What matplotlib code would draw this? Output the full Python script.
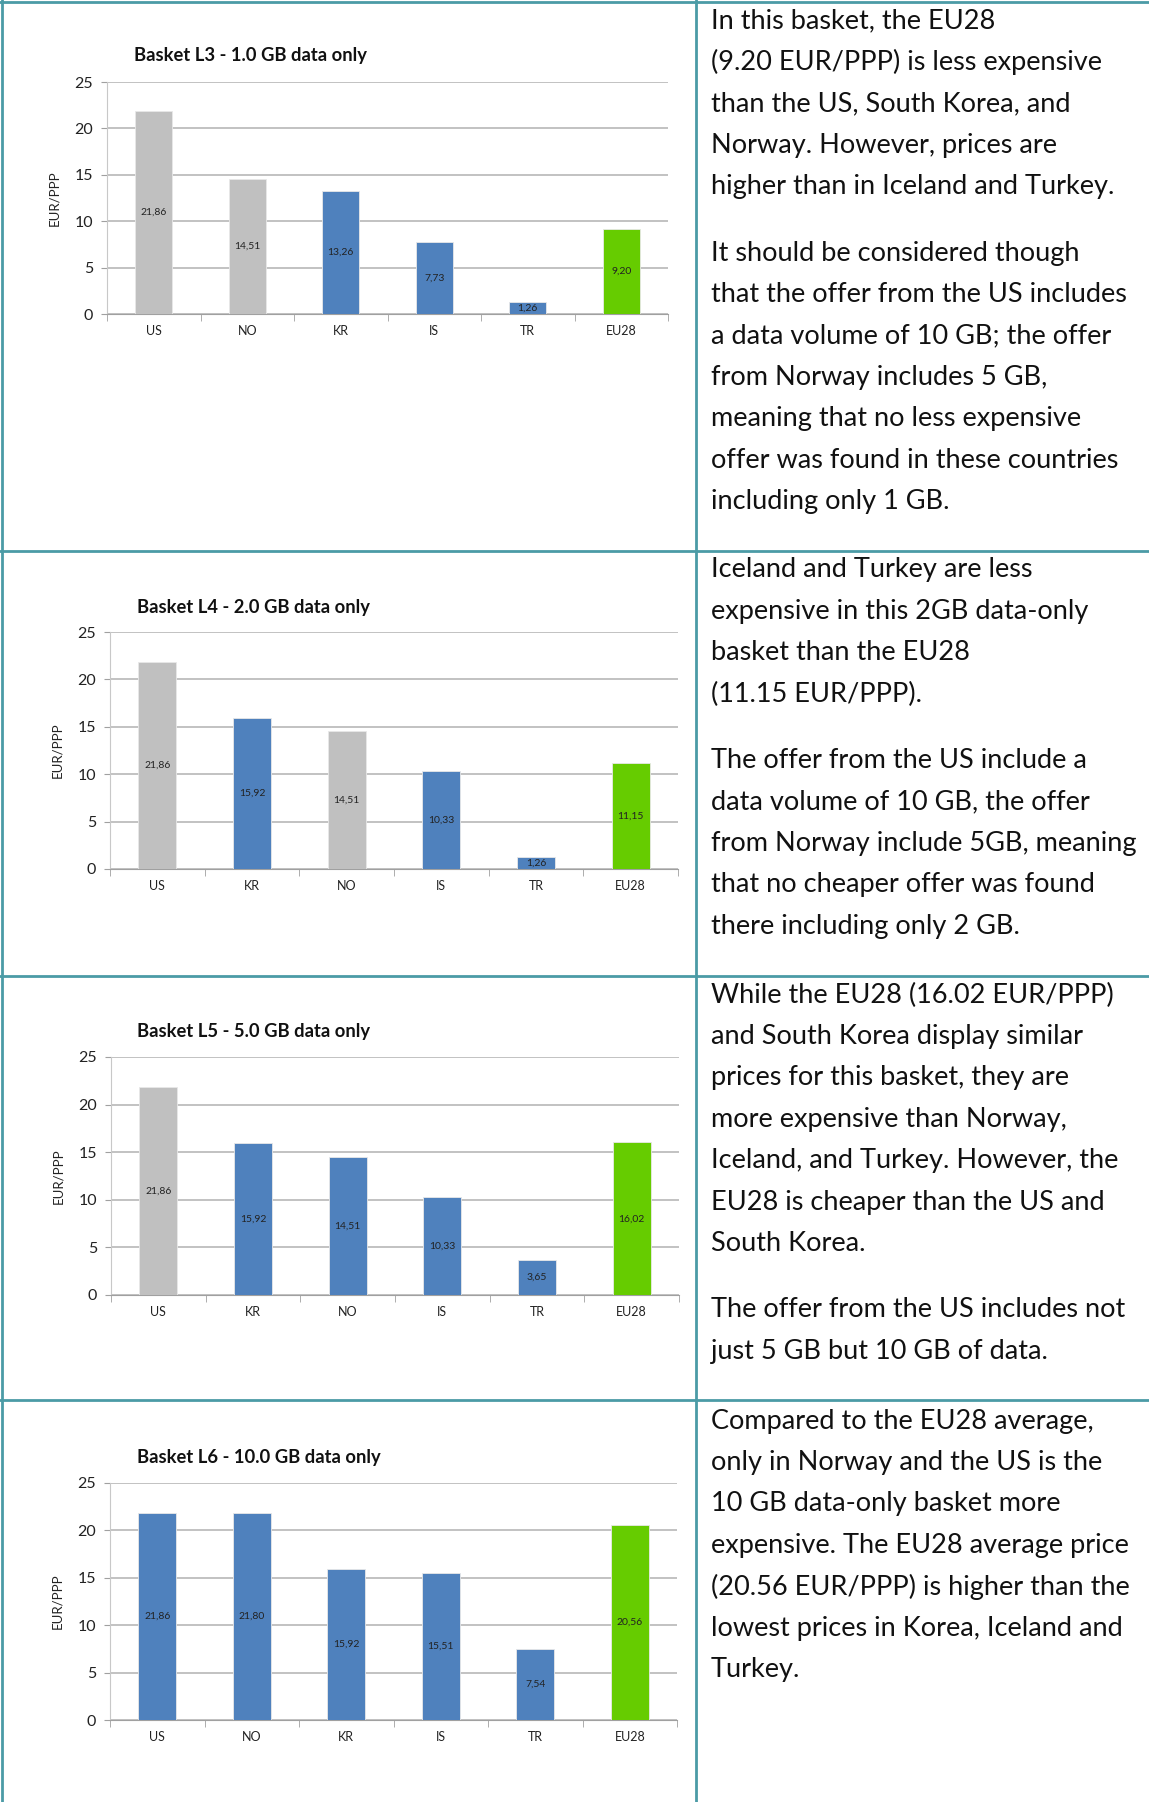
import numpy as np
import matplotlib
matplotlib.use("Agg")
import matplotlib.pyplot as plt
from matplotlib.lines import Line2D

plt.rcParams["font.family"] = ["Lato", "DejaVu Sans"]

W, H = 1149, 1802
GRAY = "#C0C0C0"
BLUE = "#4F81BD"
GREEN = "#66CC00"
BORDER = "#4B9BA6"

# Basket data
l3_countries = ["US", "NO", "KR", "IS", "TR", "EU28"]
l3_values = [21.86, 14.51, 13.26, 7.73, 1.26, 9.20]
l3_colors = [GRAY, GRAY, BLUE, BLUE, BLUE, GREEN]

l4_countries = ["US", "KR", "NO", "IS", "TR", "EU28"]
l4_values = [21.86, 15.92, 14.51, 10.33, 1.26, 11.15]
l4_colors = [GRAY, BLUE, GRAY, BLUE, BLUE, GREEN]

l5_countries = ["US", "KR", "NO", "IS", "TR", "EU28"]
l5_values = [21.86, 15.92, 14.51, 10.33, 3.65, 16.02]
l5_colors = [GRAY, BLUE, BLUE, BLUE, BLUE, GREEN]

l6_countries = ["US", "NO", "KR", "IS", "TR", "EU28"]
l6_values = [21.86, 21.80, 15.92, 15.51, 7.54, 20.56]
l6_colors = [BLUE, BLUE, BLUE, BLUE, BLUE, GREEN]

titles = [
    "Basket L3 - 1.0 GB data only",
    "Basket L4 - 2.0 GB data only",
    "Basket L5 - 5.0 GB data only",
    "Basket L6 - 10.0 GB data only",
]

texts = [
    [["In this basket, the EU28",
      "(9.20 EUR/PPP) is less expensive",
      "than the US, South Korea, and",
      "Norway. However, prices are",
      "higher than in Iceland and Turkey."],
     ["It should be considered though",
      "that the offer from the US includes",
      "a data volume of 10 GB; the offer",
      "from Norway includes 5 GB,",
      "meaning that no less expensive",
      "offer was found in these countries",
      "including only 1 GB."]],
    [["Iceland and Turkey are less",
      "expensive in this 2GB data-only",
      "basket than the EU28",
      "(11.15 EUR/PPP)."],
     ["The offer from the US include a",
      "data volume of 10 GB, the offer",
      "from Norway include 5GB, meaning",
      "that no cheaper offer was found",
      "there including only 2 GB."]],
    [["While the EU28 (16.02 EUR/PPP)",
      "and South Korea display similar",
      "prices for this basket, they are",
      "more expensive than Norway,",
      "Iceland, and Turkey. However, the",
      "EU28 is cheaper than the US and",
      "South Korea."],
     ["The offer from the US includes not",
      "just 5 GB but 10 GB of data."]],
    [["Compared to the EU28 average,",
      "only in Norway and the US is the",
      "10 GB data-only basket more",
      "expensive. The EU28 average price",
      "(20.56 EUR/PPP) is higher than the",
      "lowest prices in Korea, Iceland and",
      "Turkey."]],
]

baskets = [
    (l3_countries, l3_values, l3_colors),
    (l4_countries, l4_values, l4_colors),
    (l5_countries, l5_values, l5_colors),
    (l6_countries, l6_values, l6_colors),
]

# pixel layout: (left, right, top, bottom) of plot area
plot_boxes = [(107, 668, 82, 314), (110, 678, 632, 869), (111, 679, 1057, 1295), (110, 677, 1483, 1720)]
title_pos = [(134, 56), (137, 607), (137, 1032), (137, 1457)]
text_top = [21, 570, 995, 1421]
row_lines = [2, 551, 976, 1400]

fig = plt.figure(figsize=(W / 100, H / 100), dpi=100)


def fx(x):
    return x / W


def fy(y):
    return 1 - y / H


for (cats, vals, cols), (l, r, t, b), title, (tx, ty) in zip(baskets, plot_boxes, titles, title_pos):
    ax = fig.add_axes([fx(l), fy(b), fx(r) - fx(l), fy(t) - fy(b)])
    x = np.arange(len(cats))
    ax.bar(x, vals, width=0.4, color=cols, edgecolor="#E8E8E8", linewidth=0.6, zorder=3)
    for xi, v in zip(x, vals):
        ax.text(xi, v / 2, f"{v:.2f}".replace(".", ","), ha="center", va="center",
                fontsize=7.5, color="#222222", zorder=4)
    ax.set_xlim(-0.5, len(cats) - 0.5)
    ax.set_ylim(0, 25)
    ax.set_yticks([0, 5, 10, 15, 20, 25])
    ax.set_xticks(x)
    ax.set_xticklabels(cats)
    ax.set_xticks(np.arange(-0.5, len(cats), 1), minor=True)
    ax.tick_params(axis="x", which="major", length=0, labelsize=9, pad=8, labelcolor="#222222")
    ax.tick_params(axis="x", which="minor", length=5, color="#A0A0A0", direction="out")
    ax.tick_params(axis="y", length=4, color="#A0A0A0", labelsize=11.5, labelcolor="#222222", pad=6)
    ax.grid(axis="y", color="#B8B8B8", linewidth=1.2, zorder=0)
    for s in ["top", "right"]:
        ax.spines[s].set_visible(False)
    ax.spines["left"].set_color("#C8C8C8")
    ax.spines["bottom"].set_color("#A0A0A0")
    ax.set_ylabel("EUR/PPP", fontsize=9.5, color="#222222", labelpad=10)
    fig.text(fx(tx), fy(ty), title, fontsize=13.2, fontweight="bold", ha="left", va="center", color="#111111")

# commentary text
line_h = 41.4
para_gap = 25
for paras, y0 in zip(texts, text_top):
    y = y0
    for para in paras:
        for line in para:
            fig.text(fx(711), fy(y), line, fontsize=19.5, ha="left", va="center", color="#111111")
            y += line_h
        y += para_gap

# table borders
lw = 2
for y in row_lines:
    fig.add_artist(Line2D([0, 1], [fy(y), fy(y)], color=BORDER, linewidth=lw, transform=fig.transFigure))
fig.add_artist(Line2D([fx(2), fx(2)], [0, 1], color=BORDER, linewidth=lw, transform=fig.transFigure))
fig.add_artist(Line2D([fx(696), fx(696)], [0, 1], color=BORDER, linewidth=lw, transform=fig.transFigure))

fig.savefig("out.png", dpi=100, facecolor="white")
